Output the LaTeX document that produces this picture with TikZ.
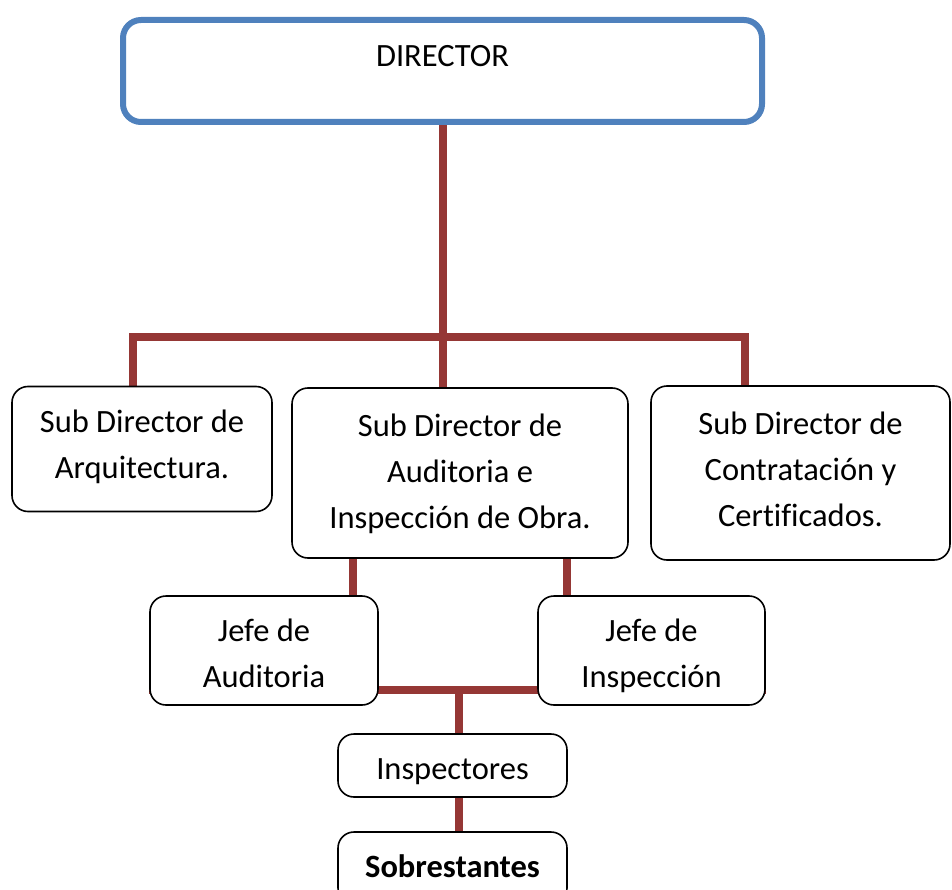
\documentclass[tikz,border=0pt]{standalone}
\usepackage{fontspec}
\setmainfont{Carlito}[Ligatures=NoCommon]
\usepackage{xcolor}
\usepackage{tikz}
\usetikzlibrary{positioning}
\usetikzlibrary{backgrounds}
\definecolor{dirblue}{RGB}{79,129,189}
\definecolor{linkred}{RGB}{149,55,53}
\newcommand{\topstrut}[1]{\rule{0pt}{#1}}
\newcommand{\botstrut}[1]{\rule[-#1]{0pt}{#1}}

\begin{document}
\begin{tikzpicture}[
	x=1pt,y=-1pt,
	font=\fontsize{32.5}{46}\selectfont
]
\tikzset{
    orgbox/.style = {rectangle, rounded corners=16pt, draw=black, line width=1.6pt, fill=white, align=center, inner sep=0pt},
		dirbox/.style = {orgbox, draw=dirblue, line width=6pt, rounded corners=18pt},
		linkline/.style = {draw=linkred, line width=8pt}
}
\clip (0,0) rectangle (952,890);
\node[dirbox, minimum width=639pt, minimum height=102pt, text height=23pt, text depth=31pt] (dir) at (442.5,71) {DIRECTOR};
\node[orgbox, minimum width=260pt, minimum height=125pt] (arq) at (142,449) {\strut Sub Director de\\Arquitectura.\botstrut{19.8pt}};
\node[orgbox, minimum width=336pt, minimum height=170pt] (aud) at (460,473) {\strut Sub Director de\\Auditoria e\\\strut Inspección de Obra.};
\node[orgbox, minimum width=299pt, minimum height=174pt] (con) at (800.5,473) {\strut Sub Director de\\Contratación y\\Certificados.\botstrut{17.8pt}};
\node[orgbox, minimum width=228pt, minimum height=109pt] (ja) at (264,650.5) {\topstrut{42.2pt}Jefe de\\\strut Auditoria};
\node[orgbox, minimum width=227pt, minimum height=109pt] (ji) at (651.5,650.5) {\topstrut{42.2pt}Jefe de\\\strut Inspección};
\node[orgbox, minimum width=229pt, minimum height=63pt] (insp) at (452.5,765.5) {\topstrut{41.2pt}\botstrut{13.8pt}Inspectores};
\node[orgbox, minimum width=229pt, minimum height=72pt] (sob) at (452.5,868) {\strut\textbf{Sobrestantes}};
\coordinate (busL) at (133,337);
\coordinate (busR) at (745,337);
\coordinate (jbus) at (459,690);
\path (aud.south) ++(-107,0) coordinate (audL) ++(214,0) coordinate (audR);
\begin{scope}[on background layer]
\draw[linkline] (busL |- arq.north) -- (busL) -- (busR) -- (busR |- con.north);
\draw[linkline] (dir.south) -- (dir.south |- aud.north);
\draw[linkline] (audL) -- (audL |- ja.north);
\draw[linkline] (audR) -- (audR |- ji.north);
\draw[linkline] (ja.west |- jbus) -- (ji.east |- jbus);
\draw[linkline] (jbus) -- (jbus |- insp.north);
\draw[linkline] (jbus |- insp.south) -- (jbus |- sob.north);
\end{scope}
\end{tikzpicture}
\end{document}
